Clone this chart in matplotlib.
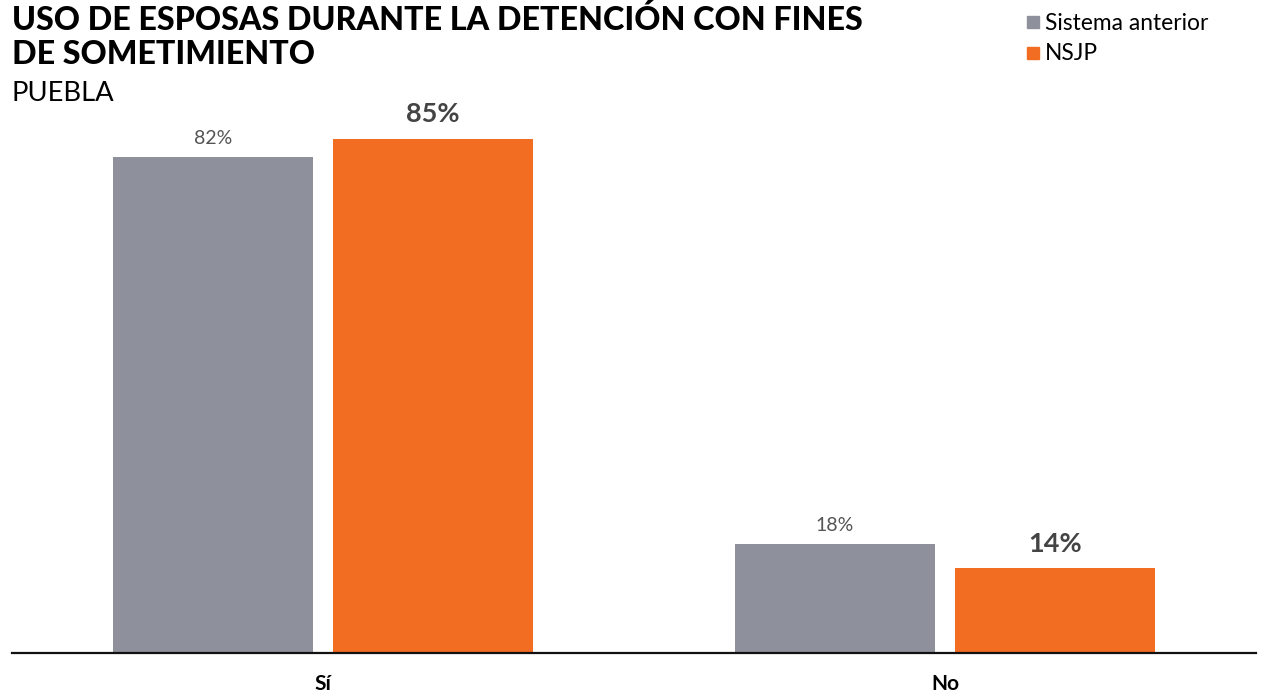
import matplotlib
matplotlib.use("Agg")
import matplotlib.pyplot as plt
from matplotlib.patches import Rectangle

categories = ["Sí", "No"]
series_names = ["Sistema anterior", "NSJP"]
sistema_anterior = [82, 18]
nsjp = [85, 14]

colors = ["#8E919C", "#F26D21"]
plt.rcParams['font.family'] = ['Lato', 'DejaVu Sans']

W, H = 1264, 693
fig = plt.figure(figsize=(W/100, H/100), dpi=100)
ax = fig.add_axes([12/W, 40/H, 1244/W, 605/H])

x = list(range(len(categories)))
bw = 200/622
off = 110/622
ax.bar([i - off for i in x], sistema_anterior, width=bw, color=colors[0])
ax.bar([i + off for i in x], nsjp, width=bw, color=colors[1])

for i, v in enumerate(sistema_anterior):
    ax.annotate(f"{v}%", (x[i] - off, v), xytext=(0, 7), textcoords="offset points",
                ha="center", va="bottom", fontsize=14, color="#555555")
for i, v in enumerate(nsjp):
    ax.annotate(f"{v}%", (x[i] + off, v), xytext=(0, 9), textcoords="offset points",
                ha="center", va="bottom", fontsize=19.5, fontweight="bold", color="#444444")

ax.set_xlim(-0.5, 1.5)
ax.set_ylim(0, 100)
for s in ["top", "right", "left"]:
    ax.spines[s].set_visible(False)
ax.spines["bottom"].set_linewidth(1.6)
ax.spines["bottom"].set_color("#111111")
ax.set_yticks([])
ax.set_xticks(x)
ax.set_xticklabels(categories, fontsize=15, fontweight="bold")
ax.tick_params(axis="x", length=0, pad=15)

fig.text(12/W, 1 - 5/H, "USO DE ESPOSAS DURANTE LA DETENCIÓN CON FINES\nDE SOMETIMIENTO",
         ha="left", va="top", fontsize=23.2, fontweight="black", linespacing=1.2)
fig.text(12/W, 1 - 81/H, "PUEBLA", ha="left", va="top", fontsize=19.7)

# legend
for j, name in enumerate(series_names):
    yc = 22 + j * 31
    fig.patches.append(Rectangle((1027/W, 1 - (yc + 6)/H), 12/W, 12/H,
                                 transform=fig.transFigure, color=colors[j]))
    fig.text(1045/W, 1 - (yc + 1)/H, name, ha="left", va="center", fontsize=16.4)

fig.savefig("out.png", dpi=100)
